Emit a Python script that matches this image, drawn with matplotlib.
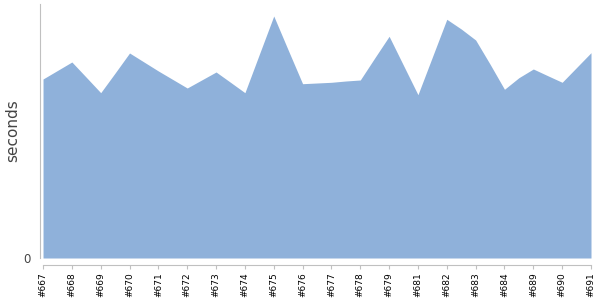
import matplotlib.pyplot as plt
import numpy as np

# build labels (every other point carries a label)
builds = ["#667", "#668", "#669", "#670", "#671", "#672", "#673", "#674", "#675", "#676",
          "#677", "#678", "#679", "#681", "#682", "#683", "#684", "#689", "#690", "#691"]

# seconds (labelled point, then the unlabelled one after it)
seconds = [179, 187.5, 196, 180.7, 165.3, 185, 205, 196, 187, 178.5,
           170, 178, 186, 175.7, 165.3, 203.7, 242, 208, 174.3, 175,
           175.7, 177, 178, 200, 221.7, 192.5, 163.3, 201, 238.7, 229,
           218, 193.8, 168.7, 180.3, 189, 182.3, 175.7, 190.5, 205.3]

x = np.arange(len(seconds))

fig = plt.figure(figsize=(6, 3), dpi=100)
ax = fig.add_axes([40/600, 42/300, 551/600, 254/300])

ax.fill_between(x, seconds, 0, color='#8fb1da', linewidth=0)

ax.set_xlim(-0.21, len(seconds) - 1)
ax.set_ylim(0, 254)

ax.set_xticks(x[::2])
ax.set_xticklabels(builds)
ax.tick_params(axis='x', length=3, width=0.8, color='#c0c0c0', pad=2,
               labelrotation=90, labelsize=6.5, labelcolor='black')

ax.set_yticks([0])
ax.set_yticklabels(["0"])
ax.tick_params(axis='y', length=0, pad=7, labelsize=8.5, labelcolor='#444444')

ax.set_ylabel("seconds", fontsize=11, color='#444444')
ax.yaxis.set_label_coords(-20/551, 0.5)

for s in ['top', 'right']:
    ax.spines[s].set_visible(False)
ax.spines['left'].set_color('#c0c0c0')
ax.spines['bottom'].set_color('#c0c0c0')
ax.spines['bottom'].set_position(('outward', 5))
ax.spines['bottom'].set_bounds(0, len(seconds) - 1)

fig.savefig("out.png", dpi=100)
